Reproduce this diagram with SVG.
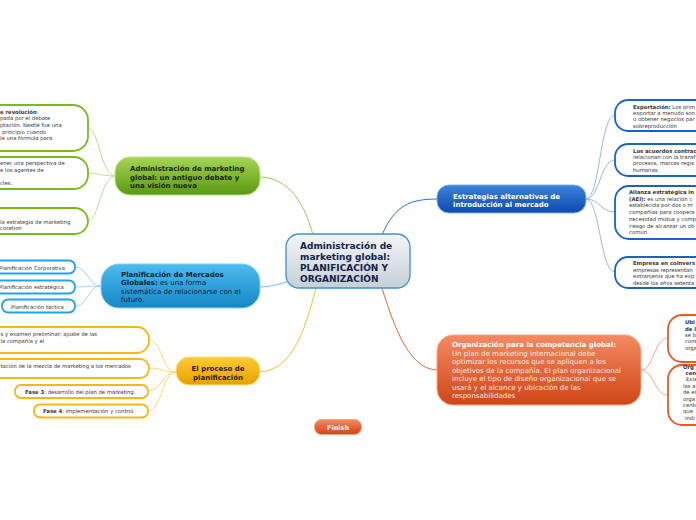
<svg xmlns="http://www.w3.org/2000/svg" width="696" height="520" viewBox="0 0 696 520">
<defs>
<linearGradient id="gC" x1="0" y1="0" x2="0" y2="1"><stop offset="0" stop-color="#f2f5f7"/><stop offset="1" stop-color="#c6cfd6"/></linearGradient>
<linearGradient id="gG" x1="0" y1="0" x2="0" y2="1"><stop offset="0" stop-color="#a6d656"/><stop offset="1" stop-color="#5a9810"/></linearGradient>
<linearGradient id="gB" x1="0" y1="0" x2="0" y2="1"><stop offset="0" stop-color="#4cbcf0"/><stop offset="1" stop-color="#1686c6"/></linearGradient>
<linearGradient id="gO" x1="0" y1="0" x2="0" y2="1"><stop offset="0" stop-color="#fccc34"/><stop offset="1" stop-color="#e6a000"/></linearGradient>
<linearGradient id="gR" x1="0" y1="0" x2="0" y2="1"><stop offset="0" stop-color="#3c82da"/><stop offset="1" stop-color="#0c4aae"/></linearGradient>
<linearGradient id="gS" x1="0" y1="0" x2="0" y2="1"><stop offset="0" stop-color="#f48a62"/><stop offset="1" stop-color="#ce4616"/></linearGradient>
</defs>
<style>
text{font-family:"DejaVu Sans",Verdana,sans-serif}
.c{font-size:5.3px;fill:#333}
.b{font-weight:bold}
.m{font-size:7px;font-weight:bold}
.ch{fill:#fff;stroke-width:1.8}
.ln{fill:none;stroke-width:1}
</style>
<g id="connectors">
<path class="ln" stroke="#9ccc50" stroke-width="1.3" d="M313 235 C305 205,290 177,258 177"/>
<path class="ln" stroke="#6cc4f0" stroke-width="1.3" d="M287 282 C275 285,270 287,258 287"/>
<path class="ln" stroke="#f8c030" stroke-width="1.3" d="M316 288 C305 330,292 372,258 372"/>
<path class="ln" stroke="#2a70d0" stroke-width="1.3" d="M382 235 C395 205,410 199,438 199"/>
<path class="ln" stroke="#e86838" stroke-width="1.3" d="M382 288 C395 330,410 370,438 370"/>
<path class="ln" stroke="#bfe090" d="M116 176 C100 176,100 128,87 128 M116 176 C100 176,100 173,87 173 M116 176 C100 176,100 221,87 221"/>
<path class="ln" stroke="#9cd6f4" d="M101 286 C88 286,88 267,75 267 M101 286 C88 286,88 287,75 287 M101 286 C88 286,88 306,75 306"/>
<path class="ln" stroke="#fcd878" d="M176 372 C162 372,162 340,149 340 M176 372 C162 372,162 368,149 368 M176 372 C162 372,162 391,148 391 M176 372 C162 372,162 411,148 411"/>
<path class="ln" stroke="#9cb8e6" d="M586 199 C600 199,600 115,615 115 M586 199 C600 199,600 160,615 160 M586 199 C600 199,600 212,615 212 M586 199 C600 199,600 272,615 272"/>
<path class="ln" stroke="#f4a888" d="M641 370 C654 370,654 338,668 338 M641 370 C654 370,654 395,668 395"/>
</g>
<g id="central">
<rect x="286" y="234" width="124" height="54" rx="13" fill="url(#gC)" stroke="#3a92da" stroke-width="1.3"/>
<text x="300" y="248.5" font-size="9" font-weight="bold" fill="#13224a">Administración de</text>
<text x="300" y="259.5" font-size="9" font-weight="bold" fill="#13224a">marketing global:</text>
<text x="300" y="270.5" font-size="9" font-weight="bold" fill="#13224a">PLANIFICACIÓN Y</text>
<text x="300" y="281.5" font-size="9" font-weight="bold" fill="#13224a">ORGANIZACIÓN</text>
</g>
<g id="n-admin">
<rect x="115" y="157" width="145" height="38" rx="15" fill="url(#gG)" stroke="#bfe37e" stroke-width="1"/>
<text class="m" x="130" y="171" fill="#1a2610">Administración de marketing</text>
<text class="m" x="130" y="179.5" fill="#1a2610">global: un antiguo debate y</text>
<text class="m" x="130" y="188" fill="#1a2610">una visión nueva</text>
</g>
<g id="n-admin-1">
<rect class="ch" x="-100" y="105" width="188" height="46" rx="15" stroke="#7cba1c"/>
<text class="c" x="0" y="113.5"><tspan class="b">e revolución</tspan>:</text>
<text class="c" x="0" y="120.3">pada por el debate</text>
<text class="c" x="0" y="127">ptación. Nestlé fue una</text>
<text class="c" x="2" y="133.7">principio cuando</text>
<text class="c" x="0" y="140.4">le una fórmula para</text>
</g>
<g id="n-admin-2">
<rect class="ch" x="-100" y="157" width="188" height="32" rx="14" stroke="#7cba1c"/>
<text class="c" x="0" y="165">ener una perspectiva de</text>
<text class="c" x="0" y="171.7">e los agentes de</text>
<text class="c" x="0" y="185.1">cles.</text>
</g>
<g id="n-admin-3">
<rect class="ch" x="-100" y="208" width="188" height="26" rx="13" stroke="#7cba1c"/>
<text class="c" x="0" y="223.5">la estrategia de marketing</text>
<text class="c" x="0" y="230">coration</text>
</g>
<g id="n-plan">
<rect x="101" y="264" width="159" height="44" rx="18" fill="url(#gB)" stroke="#86d2f6" stroke-width="1"/>
<text x="121" y="277" font-size="7" fill="#0c1e34"><tspan font-weight="bold">Planificación de Mercados</tspan></text>
<text x="121" y="285.3" font-size="7" fill="#0c1e34"><tspan font-weight="bold">Globales:</tspan> es una forma</text>
<text x="121" y="293.6" font-size="7" fill="#0c1e34">sistemática de relacionarse con el</text>
<text x="121" y="301.9" font-size="7" fill="#0c1e34">futuro.</text>
</g>
<g id="n-plan-1">
<rect class="ch" x="-40" y="260.5" width="115" height="13" rx="6" stroke="#26a2e6" stroke-width="1.4"/>
<text class="c" x="-1" y="270">Planificación Corporativa</text>
</g>
<g id="n-plan-2">
<rect class="ch" x="-40" y="280.5" width="115" height="13" rx="6" stroke="#26a2e6" stroke-width="1.4"/>
<text class="c" x="-1" y="289">Planificación estratégica</text>
</g>
<g id="n-plan-3">
<rect class="ch" x="2" y="299.5" width="73" height="13" rx="6" stroke="#26a2e6" stroke-width="1.4"/>
<text class="c" x="11" y="309">Planificación táctica</text>
</g>
<g id="n-proc">
<rect x="176" y="357" width="84" height="28" rx="13" fill="url(#gO)" stroke="#fde07e" stroke-width="1"/>
<text class="m" x="218" y="371" text-anchor="middle" fill="#2e2000">El proceso de</text>
<text class="m" x="218" y="379.5" text-anchor="middle" fill="#2e2000">planificación</text>
</g>
<g id="n-proc-1">
<rect class="ch" x="-100" y="327" width="249" height="26" rx="12" stroke="#f8b812" stroke-width="1.5"/>
<text class="c" x="0.5" y="336">s y examen preliminar; ajuste de las</text>
<text class="c" x="0.5" y="342.5">la compañía y el</text>
</g>
<g id="n-proc-2">
<rect class="ch" x="-100" y="359" width="249" height="19" rx="9" stroke="#f8b812" stroke-width="1.5"/>
<text class="c" x="0.5" y="368">tación de la mezcla de marketing a los mercados</text>
</g>
<g id="n-proc-3">
<rect class="ch" x="15" y="385" width="133" height="13" rx="6" stroke="#f8b812" stroke-width="1.5"/>
<text class="c" x="25" y="393.5"><tspan class="b">Fase 3</tspan>: desarrollo del plan de marketing.</text>
</g>
<g id="n-proc-4">
<rect class="ch" x="34" y="404.5" width="114" height="13" rx="6" stroke="#f8b812" stroke-width="1.5"/>
<text class="c" x="43" y="413"><tspan class="b">Fase 4</tspan>: implementación y control.</text>
</g>
<g id="n-estr">
<rect x="437" y="185" width="149" height="28" rx="12" fill="url(#gR)" stroke="#86aee8" stroke-width="1"/>
<text class="m" x="453" y="198.5" fill="#fff">Estrategias alternativas de</text>
<text class="m" x="453" y="206.8" fill="#fff">introducción al mercado</text>
</g>
<g id="n-estr-1">
<rect class="ch" x="615" y="100" width="140" height="31" rx="13" stroke="#1a62c8" stroke-width="1.5"/>
<text class="c" x="633" y="109"><tspan class="b">Exportación:</tspan> Los prim</text>
<text class="c" x="633" y="115.2">exportar a menudo son</text>
<text class="c" x="633" y="121.4">u obtener negocios par</text>
<text class="c" x="633" y="127.6">sobreproducción</text>
</g>
<g id="n-estr-2">
<rect class="ch" x="615" y="144" width="140" height="32" rx="13" stroke="#1a62c8" stroke-width="1.5"/>
<text class="c b" x="633" y="152.7">Los acuerdos contrac</text>
<text class="c" x="633" y="159">relacionan con la transf</text>
<text class="c" x="633" y="165.3">procesos, marcas regis</text>
<text class="c" x="633" y="171.6">humanas.</text>
</g>
<g id="n-estr-3">
<rect class="ch" x="615" y="186" width="140" height="53" rx="14" stroke="#1a62c8" stroke-width="1.5"/>
<text class="c b" x="629" y="194">Alianza estratégica in</text>
<text class="c" x="629" y="200.7"><tspan class="b">(AEI):</tspan> es una relación c</text>
<text class="c" x="629" y="207.4">establecida por dos o m</text>
<text class="c" x="629" y="214.1">compañías para coopera</text>
<text class="c" x="629" y="220.8">necesidad mutua y comp</text>
<text class="c" x="629" y="227.5">riesgo de alcanzar un ob</text>
<text class="c" x="629" y="234.2">común</text>
</g>
<g id="n-estr-4">
<rect class="ch" x="615" y="257" width="140" height="31" rx="13" stroke="#1a62c8" stroke-width="1.5"/>
<text class="c b" x="633" y="265">Empresa en coinvers</text>
<text class="c" x="633" y="271.7">empresas representan</text>
<text class="c" x="633" y="278.4">extranjeros que ha exp</text>
<text class="c" x="633" y="285">desde los años setenta</text>
</g>
<g id="n-org">
<rect x="437" y="335" width="204" height="70" rx="16" fill="url(#gS)" stroke="#f8a686" stroke-width="1"/>
<text class="m" x="452" y="347" fill="#fff">Organización para la competencia global:</text>
<text x="452" y="355.5" font-size="7" fill="#fde8e0">Un plan de marketing internacional debe</text>
<text x="452" y="364" font-size="7" fill="#fde8e0">optimizar los recursos que se apliquen a los</text>
<text x="452" y="372.5" font-size="7" fill="#fde8e0">objetivos de la compañía. El plan organizacional</text>
<text x="452" y="381" font-size="7" fill="#fde8e0">incluye el tipo de diseño organizacional que se</text>
<text x="452" y="389.5" font-size="7" fill="#fde8e0">usará y el alcance y ubicación de las</text>
<text x="452" y="398" font-size="7" fill="#fde8e0">responsabilidades</text>
</g>
<g id="n-org-1">
<rect class="ch" x="668" y="315" width="80" height="47" rx="14" stroke="#e85a26" stroke-width="1.6"/>
<text class="c b" x="685" y="324">Ubi</text>
<text class="c b" x="685" y="330.5">de l</text>
<text class="c" x="685" y="337">se b</text>
<text class="c" x="685" y="343">cons</text>
<text class="c" x="685" y="349.5">orga</text>
</g>
<g id="n-org-2">
<rect class="ch" x="668" y="365" width="80" height="60" rx="14" stroke="#e85a26" stroke-width="1.6"/>
<text class="c b" x="683" y="368.5">Org</text>
<text class="c b" x="685.5" y="375">cen</text>
<text class="c" x="686" y="381">Exis</text>
<text class="c" x="683" y="388.2">las a</text>
<text class="c" x="683" y="394.4">de el</text>
<text class="c" x="683" y="400.8">orga</text>
<text class="c" x="683" y="407">cenb</text>
<text class="c" x="683" y="413.3">que</text>
<text class="c" x="685" y="419.5">indi</text>
</g>
<g id="finish">
<rect x="314.5" y="419.5" width="47" height="15" rx="7" fill="url(#gS)" stroke="#f8a080" stroke-width="1"/>
<text x="338" y="429.7" text-anchor="middle" font-size="6.5" font-weight="bold" fill="#fff">Finish</text>
</g>
</svg>
